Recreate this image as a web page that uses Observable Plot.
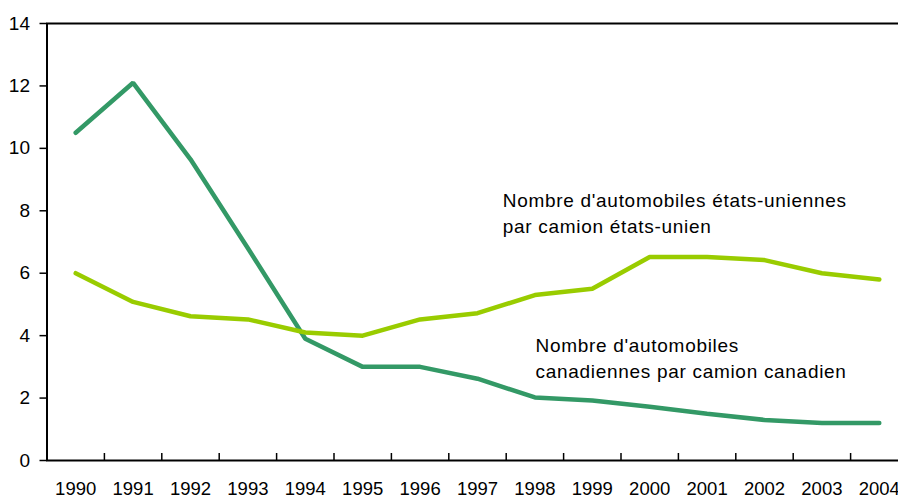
<!DOCTYPE html>
<html><head><meta charset="utf-8">
<script src="https://cdn.jsdelivr.net/npm/d3@7"></script>
<script src="https://cdn.jsdelivr.net/npm/@observablehq/plot@0.6"></script>
<style>
html,body{margin:0;padding:0;background:#fff;overflow:hidden}
#chart svg{overflow:hidden}
#chart svg g[aria-label="text"] text{letter-spacing:0.7px}
</style>
</head><body><div id="chart"></div>
<script>
const years = [1990,1991,1992,1993,1994,1995,1996,1997,1998,1999,2000,2001,2002,2003,2004];
const canada = [10.5,12.1,9.65,6.8,3.9,3.0,3.0,2.62,2.02,1.92,1.72,1.5,1.3,1.2,1.2];
const usa = [6.0,5.08,4.62,4.52,4.1,4.0,4.52,4.72,5.3,5.5,6.52,6.52,6.42,6.0,5.8];
const yTicks = [0,2,4,6,8,10,12,14];
const bandEdges = [1990.5,1991.5,1992.5,1993.5,1994.5,1995.5,1996.5,1997.5,1998.5,1999.5,2000.5,2001.5,2002.5,2003.5];
const seriesNames = ["Canada","États-Unis"];
const seriesColors = ["#339966","#99cc00"];
const annoText = ["Nombre d'automobiles états-uniennes\npar camion états-unien","Nombre d'automobiles\ncanadiennes par camion canadien"];
const annoX = [1997.44, 1998.01];
const annoY = [8.72, 4.06];

const rows = [];
years.forEach((yr,i)=>{
  rows.push({year:yr, value:canada[i], series:seriesNames[0]});
  rows.push({year:yr, value:usa[i], series:seriesNames[1]});
});
const annos = annoText.map((t,i)=>({text:t, x:annoX[i], y:annoY[i]}));

const chart = Plot.plot({
  width: 898,
  height: 498,
  marginLeft: 46.5,
  marginRight: -9.5,
  marginTop: 23,
  marginBottom: 38,
  style: {fontFamily: "Arial, 'Liberation Sans', sans-serif", fontSize: "19px", color: "#000", background: "#fff"},
  x: {domain: [1989.5, 2004.5], axis: null},
  y: {domain: [0, 14], axis: null},
  color: {domain: seriesNames, range: seriesColors},
  marks: [
    Plot.axisY(yTicks, {anchor: "left", tickSize: 7, tickPadding: 10, fontSize: 19, strokeWidth: 1.5}),
    Plot.axisX(years, {anchor: "bottom", tickSize: 0, tickPadding: 21, tickFormat: d => String(d), fontSize: 18.5}),
    Plot.axisX(bandEdges, {anchor: "bottom", tickSize: -7, tickFormat: () => "", strokeWidth: 1.5}),
    Plot.frame({stroke: "#000", strokeWidth: 2}),
    Plot.line(rows, {x: "year", y: "value", z: "series", stroke: "series", strokeWidth: 4.5, strokeLinejoin: "miter", strokeLinecap: "round"}),
    Plot.text(annos, {x: "x", y: "y", text: "text", textAnchor: "start", lineAnchor: "top", lineHeight: 1.37, fontSize: 19, fill: "#000"})
  ]
});
document.getElementById("chart").appendChild(chart);
</script>
</body></html>
